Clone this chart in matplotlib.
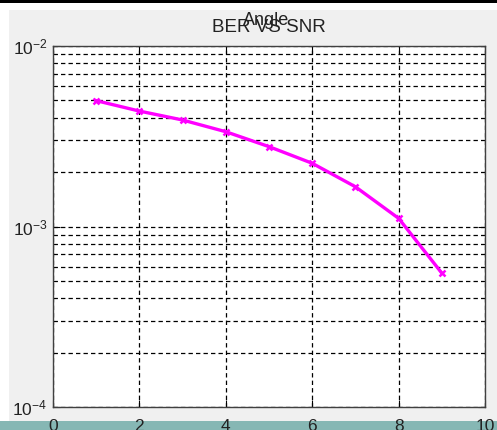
import matplotlib.pyplot as plt
import numpy as np
from matplotlib.patches import Rectangle
from matplotlib.ticker import LogLocator, FixedLocator

plt.rcParams["font.family"] = ["Liberation Sans", "DejaVu Sans"]
plt.rcParams["mathtext.fontset"] = "custom"
plt.rcParams["mathtext.rm"] = "Liberation Sans"
plt.rcParams["mathtext.it"] = "Liberation Sans"

# BER por SNR
snr = [1, 2, 3, 4, 5, 6, 7, 8, 9]
ber = [4.98e-3, 4.36e-3, 3.89e-3, 3.35e-3, 2.77e-3, 2.24e-3, 1.66e-3, 1.11e-3, 5.52e-4]
xticks = [0, 2, 4, 6, 8, 10]

fig = plt.figure(figsize=(4.97, 4.30), dpi=100)
fig.patch.set_facecolor("white")

# fondo gris estilo ventana de figura
fig.patches.append(Rectangle((9 / 497, 0), 1, 1 - 10 / 430, transform=fig.transFigure,
                             facecolor="#f0f0f0", edgecolor="none", zorder=-10))
fig.patches.append(Rectangle((0, 1 - 3 / 430), 1, 3 / 430, transform=fig.transFigure,
                             facecolor="black", edgecolor="none", zorder=-9))
fig.patches.append(Rectangle((0, 0), 1, 9 / 430, transform=fig.transFigure,
                             facecolor="#86b7b4", edgecolor="none", zorder=-9))

ax = fig.add_axes([53 / 497, 1 - 407 / 430, 432 / 497, 361 / 430])
ax.set_facecolor("white")

ax.semilogy(snr, ber, color="#ff00ff", linewidth=2.4, marker="x",
            markersize=5, markeredgewidth=1.8, zorder=3)

ax.set_xlim(0, 10)
ax.set_ylim(1e-4, 1e-2)
ax.xaxis.set_major_locator(FixedLocator(xticks))
ax.yaxis.set_major_locator(LogLocator(base=10, numticks=5))
ax.yaxis.set_minor_locator(LogLocator(base=10, subs=np.arange(2, 10), numticks=12))

grid_kw = dict(color="black", linestyle=(0, (3.5, 2.5)), linewidth=0.9)
ax.grid(True, which="major", axis="both", **grid_kw)
ax.grid(True, which="minor", axis="y", **grid_kw)

ax.tick_params(which="both", direction="in", top=True, right=True,
               labelsize=12.5, colors="black")
ax.tick_params(axis="x", pad=8.5)
ax.tick_params(axis="y", pad=4)
ax.tick_params(which="major", length=5)
ax.tick_params(which="minor", length=3)
for lbl in ax.get_xticklabels() + ax.get_yticklabels():
    lbl.set_color("#222222")
for s in ax.spines.values():
    s.set_color("#404040")
    s.set_linewidth(1.0)

fig.text(269 / 497, 1 - 32 / 430, "BER VS SNR", ha="center", va="baseline",
         fontsize=13.5, color="#222222")
fig.text(266 / 497, 1 - 25 / 430, "Angle", ha="center", va="baseline",
         fontsize=13, color="#222222")

fig.savefig("out.png", dpi=100)
